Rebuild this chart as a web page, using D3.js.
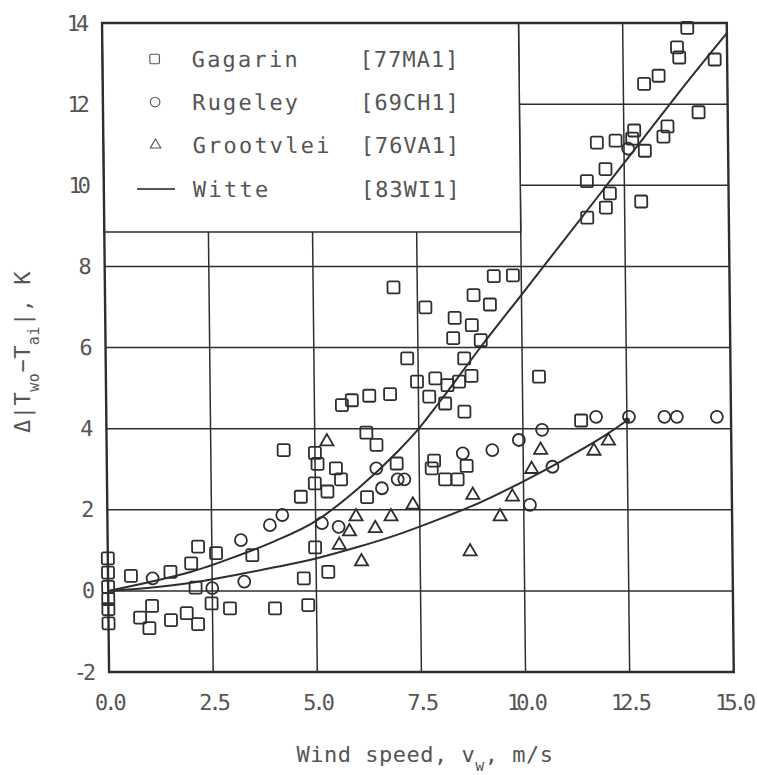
<!DOCTYPE html>
<html><head><meta charset="utf-8">
<script src="https://cdn.jsdelivr.net/npm/d3@7"></script>
<style>body{margin:0;background:#fff}</style>
</head><body>
<svg id="c" width="757" height="775"></svg>
<script>
const xTickValues = [0, 2.5, 5, 7.5, 10, 12.5, 15];
const xTickLabels = ["0.0", "2.5", "5.0", "7.5", "10.0", "12.5", "15.0"];
const yTickValues = [-2, 0, 2, 4, 6, 8, 10, 12, 14];
const yTickLabels = ["-2", "0", "2", "4", "6", "8", "10", "12", "14"];

const gagarin = [
  [14.05,13.88],[13.8,13.4],[13.85,13.15],[14.7,13.1],[13.0,12.5],[13.35,12.7],[14.3,11.8],
  [13.55,11.45],[13.45,11.2],[12.75,11.35],[12.7,11.15],[12.3,11.1],[11.85,11.05],[13.0,10.85],
  [12.05,10.4],[11.6,10.1],[12.15,9.8],[12.05,9.45],[12.9,9.6],[11.6,9.2],
  [9.8,7.78],[9.34,7.76],[6.93,7.48],[7.69,6.99],[8.85,7.29],[9.24,7.06],[8.39,6.73],[8.8,6.55],
  [8.35,6.23],[9.01,6.18],[8.61,5.73],[7.24,5.73],[8.78,5.3],[7.47,5.16],[7.91,5.24],[8.2,5.07],
  [8.48,5.16],[7.76,4.79],[8.14,4.62],[8.6,4.42],[6.82,4.85],[6.32,4.81],[5.9,4.7],[5.66,4.58],
  [10.4,5.28],[6.24,3.9],[6.48,3.6],[5.06,3.13],[5.5,3.02],[5.62,2.75],[4.99,2.65],[4.65,2.32],
  [5.29,2.45],[6.24,2.31],[6.96,3.14],[7.86,3.21],[7.8,3.02],[8.12,2.75],[8.42,2.75],[8.64,3.08],
  [4.98,1.07],[5.29,0.47],[4.7,0.31],[4.25,3.47],[5.0,3.4],
  [4.8,-0.35],[4.0,-0.43],[2.92,-0.43],[2.48,-0.31],[2.17,1.09],[2.6,0.93],[3.47,0.88],[2.0,0.68],
  [1.5,0.47],[0.55,0.37],[2.1,0.08],[1.05,-0.37],[0.76,-0.66],[0.98,-0.92],[1.5,-0.72],[2.15,-0.82],
  [1.88,-0.55],[0,0.8],[0,0.45],[0,0.1],[0,-0.2],[0,-0.45],[0,-0.8],[11.4,4.2]
];
const rugeley = [
  [11.76,4.29],[12.55,4.29],[13.4,4.29],[13.7,4.29],[14.66,4.29],
  [10.46,3.97],[9.9,3.72],[9.26,3.47],[8.55,3.39],[10.7,3.06],[10.15,2.12],
  [6.47,3.02],[6.98,2.75],[7.14,2.75],[6.6,2.53],[5.15,1.67],[5.55,1.58],[12.6,10.9],
  [3.2,1.25],[3.9,1.62],[4.2,1.87],[1.07,0.31],[2.5,0.07],[3.27,0.23]
];
const grootvlei = [
  [5.29,3.68],[7.34,2.12],[6.81,1.83],[6.43,1.54],[5.81,1.46],[5.97,1.83],[5.56,1.13],[6.09,0.72],
  [8.78,2.36],[8.7,0.97],[9.73,2.32],[9.43,1.83],[10.42,3.47],[11.7,3.45],[12.05,3.7],[10.2,3.0]
];
const witteUpper = [
  [0,0],[1,0.22],[2,0.47],[3,0.82],[4,1.22],[5,1.72],[6,2.5],[7,3.45],[7.5,4.0],[8,4.65],
  [9,6.0],[10,7.3],[11,8.6],[12,9.9],[13,11.2],[14,12.5],[15,13.75]
];
const witteLower = [
  [0,0],[1,0.08],[2,0.2],[3,0.38],[4,0.58],[5,0.8],[6,1.08],[7,1.4],[8,1.78],[9,2.2],
  [10,2.7],[11,3.25],[12,3.85],[12.5,4.2]
];
const legendNames = ["Gagarin", "Rugeley", "Grootvlei", "Witte"];
const legendRefs = ["[77MA1]", "[69CH1]", "[76VA1]", "[83WI1]"];
const legendSymbols = ["square", "circle", "triangle", "line"];

const ink = "#2e2e2e";
const textInk = "#555";
const font = "'DejaVu Sans Mono', 'Liberation Mono', monospace";
const svg = d3.select("#c");
svg.append("rect").attr("width", 757).attr("height", 775).attr("fill", "#fff");

const k = 0.0108; // slight scan skew
const g = svg.append("g").attr("transform", `skewX(${Math.atan(k) * 180 / Math.PI})`);

const x = d3.scaleLinear().domain([0, 15]).range([101.8, 726.5]);
const y = d3.scaleLinear().domain([-2, 14]).range([672, 23]);

// grid
g.append("g").selectAll("line").data(xTickValues.slice(1, -1)).join("line")
  .attr("x1", d => x(d)).attr("x2", d => x(d)).attr("y1", y(-2)).attr("y2", y(14))
  .attr("stroke", ink).attr("stroke-width", 1.5);
g.append("g").selectAll("line").data(yTickValues.slice(1, -1)).join("line")
  .attr("x1", x(0)).attr("x2", x(15)).attr("y1", d => y(d)).attr("y2", d => y(d))
  .attr("stroke", ink).attr("stroke-width", 1.5);

// legend box (covers grid)
const legBottom = 232;
g.append("rect").attr("x", x(0)).attr("y", y(14)).attr("width", x(10) - x(0)).attr("height", legBottom - y(14))
  .attr("fill", "#fff").attr("stroke", ink).attr("stroke-width", 1.5);

// border
g.append("rect").attr("x", x(0)).attr("y", y(14)).attr("width", x(15) - x(0)).attr("height", y(-2) - y(14))
  .attr("fill", "none").attr("stroke", ink).attr("stroke-width", 2.4);

// axes
const xAxis = d3.axisBottom(x).tickValues(xTickValues).tickFormat((d, i) => xTickLabels[i]).tickSize(0).tickPadding(22);
const ax = g.append("g").attr("transform", `translate(0,${y(-2)})`).call(xAxis);
ax.select(".domain").remove();
ax.selectAll("text").attr("font-family", font).attr("font-size", 22).attr("fill", textInk)
  .attr("letter-spacing", -4).attr("dx", -1);
const yAxis = d3.axisLeft(y).tickValues(yTickValues).tickFormat((d, i) => yTickLabels[i]).tickSize(0).tickPadding(17);
const ay = g.append("g").attr("transform", `translate(${x(0)},0)`).call(yAxis);
ay.select(".domain").remove();
ay.selectAll("text").attr("font-family", font).attr("font-size", 22).attr("fill", textInk)
  .attr("letter-spacing", -4);

// curves
const line = d3.line().x(d => x(d[0])).y(d => y(d[1])).curve(d3.curveMonotoneX);
[witteUpper, witteLower].forEach(s => {
  g.append("path").attr("d", line(s)).attr("fill", "none").attr("stroke", ink).attr("stroke-width", 2);
});
g.append("circle").attr("cx", x(witteLower[witteLower.length - 1][0])).attr("cy", y(witteLower[witteLower.length - 1][1]))
  .attr("r", 3).attr("fill", ink);

// markers
const S = 12;
function drawSym(sel, type) {
  if (type === "square") {
    sel.append("rect").attr("x", -S / 2).attr("y", -S / 2).attr("width", S).attr("height", S).attr("rx", 1.5);
  } else if (type === "circle") {
    sel.append("circle").attr("r", S / 2);
  } else if (type === "triangle") {
    sel.append("path").attr("d", d3.symbol(d3.symbolTriangle, 75)());
  }
}
function series(data, type) {
  const grp = g.append("g").attr("fill", "none").attr("stroke", ink).attr("stroke-width", 1.8);
  grp.selectAll("g").data(data).join("g")
    .attr("transform", d => `translate(${x(d[0])},${y(d[1])})`)
    .each(function () { drawSym(d3.select(this), type); });
}
series(gagarin, "square");
series(rugeley, "circle");
series(grootvlei, "triangle");

// legend
const rows = [59, 102, 145, 189];
const leg = g.append("g");
legendNames.forEach((name, i) => {
  const r = leg.append("g").attr("transform", `translate(0,${rows[i]})`);
  const m = r.append("g").attr("transform", "translate(154,0)").attr("fill", "none").attr("stroke", "#555").attr("stroke-width", 1.4);
  if (legendSymbols[i] === "line") {
    m.append("line").attr("x1", -19).attr("x2", 19).attr("stroke-width", 2);
  } else {
    m.append("g").attr("transform", "scale(0.8)").call(s => drawSym(s, legendSymbols[i]));
  }
  r.append("text").attr("x", 191).attr("y", 8).text(name)
    .attr("font-family", font).attr("font-size", 22).attr("letter-spacing", 2.2).attr("fill", textInk);
  r.append("text").attr("x", 359).attr("y", 8).text(legendRefs[i])
    .attr("font-family", font).attr("font-size", 22).attr("letter-spacing", 1).attr("fill", textInk);
});

// axis titles
const xt = svg.append("text").attr("x", 425).attr("y", 762).attr("text-anchor", "middle")
  .attr("font-family", font).attr("font-size", 22).attr("letter-spacing", 0.5).attr("fill", textInk);
xt.append("tspan").text("Wind speed, v");
xt.append("tspan").text("w").attr("font-size", 15).attr("baseline-shift", "sub");
xt.append("tspan").text(", m/s");

const yt = svg.append("text").attr("transform", "translate(30,352) rotate(-90)").attr("text-anchor", "middle")
  .attr("font-family", font).attr("font-size", 22).attr("letter-spacing", 0.5).attr("fill", textInk);
yt.append("tspan").text("Δ|T");
yt.append("tspan").text("wo").attr("font-size", 15).attr("baseline-shift", "sub");
yt.append("tspan").text("−T");
yt.append("tspan").text("ai").attr("font-size", 15).attr("baseline-shift", "sub");
yt.append("tspan").text("|, K");
</script>
</body></html>
